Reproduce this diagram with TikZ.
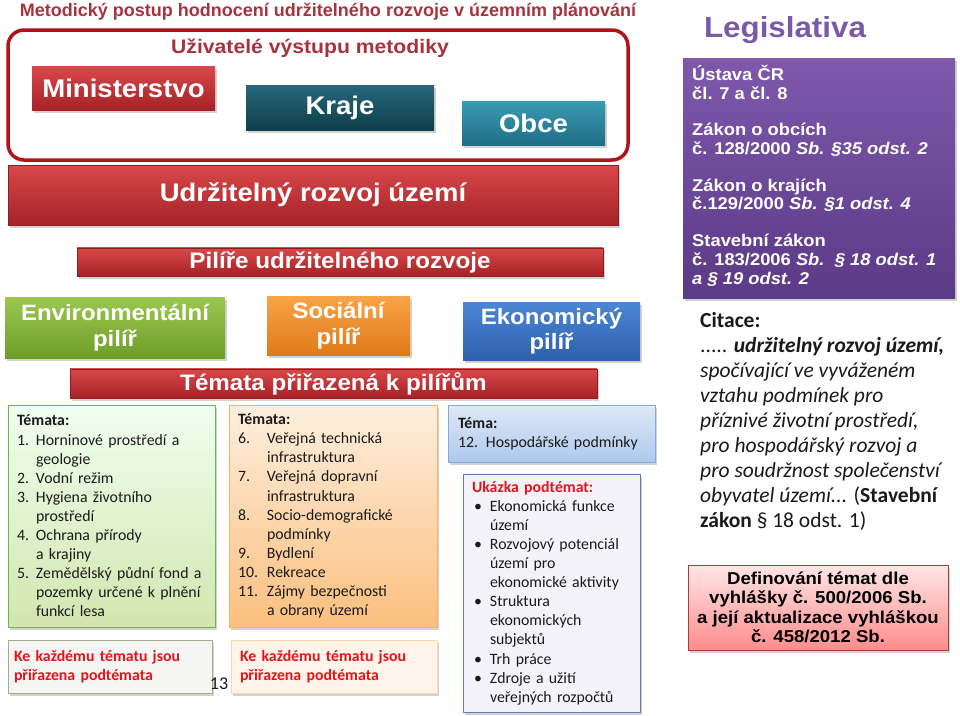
\documentclass[tikz,border=0pt]{standalone}
\usepackage{fontspec}
\setmainfont{Carlito}
\newfontfamily\headfont{Liberation Sans}
\newfontfamily\blackfont[FakeStretch=1.08]{Liberation Sans}
\usetikzlibrary{shadows,backgrounds}

\definecolor{urTitle}{HTML}{A8333F}
\definecolor{urLine}{HTML}{B3121B}
\definecolor{urRedTop}{HTML}{D9484A}
\definecolor{urRedBot}{HTML}{A52226}
\definecolor{urTealDkTop}{HTML}{26687A}
\definecolor{urTealDkBot}{HTML}{0F3E4C}
\definecolor{urTealTop}{HTML}{3A9AB3}
\definecolor{urTealBot}{HTML}{1F6E86}
\definecolor{urGreenTop}{HTML}{9CC74E}
\definecolor{urGreenBot}{HTML}{6E9E2A}
\definecolor{urOrangeTop}{HTML}{F9A447}
\definecolor{urOrangeBot}{HTML}{E07A18}
\definecolor{urBlueTop}{HTML}{4C86D4}
\definecolor{urBlueBot}{HTML}{2D60AC}
\definecolor{urPurpleTop}{HTML}{7F58AC}
\definecolor{urPurpleBot}{HTML}{5B3A87}
\definecolor{urPurpleText}{HTML}{7A5AA6}
\definecolor{urGreenLine}{HTML}{1E9A50}
\definecolor{urOrangeLine}{HTML}{D9781C}
\definecolor{urBlueLine}{HTML}{2F62A6}
\definecolor{urWarn}{HTML}{E3141B}
\definecolor{urInk}{HTML}{1A1A1A}

\newcommand{\heavy}{\blackfont\bfseries}
\newcommand{\envno}[1]{\makebox[19pt][l]{#1}}
\newcommand{\socno}[1]{\makebox[29pt][l]{#1}}
\newcommand{\ukbul}[1]{\hspace*{2pt}\makebox[16pt][l]{#1}}

\begin{document}
\begin{tikzpicture}[x=1pt,y=-1pt,
                    boxshadow/.style={drop shadow={opacity=.35,shadow xshift=2pt,shadow yshift=-2.5pt}},
                    bar/.style={boxshadow,draw=urRedBot!85!black,top color=urRedTop,bottom color=urRedBot,
                                text=white,font=\heavy},
                    users/.style={boxshadow,text=white,font=\heavy\fontsize{25.5}{28}\selectfont},
                    pillar/.style={boxshadow,text=white,align=center,
                                   font=\heavy\fontsize{22.2}{25.5}\selectfont},
                    topics/.style={boxshadow,align=left,text=urInk,inner xsep=9pt,inner ysep=0pt,
                                   font=\fontsize{15.8}{19.1}\selectfont},
                    subnote/.style={boxshadow,align=left,text=urWarn,inner xsep=6pt,
                                    font=\bfseries\fontsize{15.8}{19.1}\selectfont},
                    redline/.style={draw=urLine,line width=3pt}]
  \useasboundingbox[fill=white] (0,0) rectangle (960,715);

  % users of the method
  \node[text=urTitle,font=\headfont\bfseries\fontsize{18}{20}\selectfont] (title) at (328,12)
       {Metodický postup hodnocení udržitelného rozvoje v územním plánování};
  \node[draw=urLine,line width=3.5pt,rounded corners=16pt,minimum width=620pt,minimum height=130pt] (frame) at (318,95) {};
  \node[text=urTitle,font=\heavy\fontsize{19.6}{22}\selectfont] (userhead) at (310,48) {Uživatelé výstupu metodiky};
  \node[users,top color=urRedTop,bottom color=urRedBot,minimum width=183pt,minimum height=44pt] (mini) at (123.5,88) {Ministerstvo};
  \node[users,top color=urTealDkTop,bottom color=urTealDkBot,minimum width=188pt,minimum height=45pt] (kraje) at (340,107.5) {Kraje};
  \node[users,top color=urTealTop,bottom color=urTealBot,minimum width=143pt,minimum height=44pt] (obce) at (533.5,123) {Obce};

  % pillars
  \node[bar,font=\heavy\fontsize{25.4}{28}\selectfont,minimum width=610pt,minimum height=60pt] (udr) at (313,195)
       {Udržitelný rozvoj území};
  \node[bar,font=\heavy\fontsize{22.4}{24}\selectfont,minimum width=526pt,minimum height=28pt] (pil) at (340,262)
       {Pilíře udržitelného rozvoje};
  \node[pillar,top color=urGreenTop,bottom color=urGreenBot,minimum width=220pt,minimum height=61pt] (env) at (115,327.5)
       {Environmentální\\pilíř};
  \node[pillar,top color=urOrangeTop,bottom color=urOrangeBot,minimum width=143pt,minimum height=59pt] (soc) at (338.5,325.5)
       {Sociální\\pilíř};
  \node[pillar,top color=urBlueTop,bottom color=urBlueBot,minimum width=177pt,minimum height=58pt] (eko) at (551.5,331)
       {Ekonomický\\pilíř};
  \node[bar,font=\heavy\fontsize{22.4}{24}\selectfont,minimum width=527pt,minimum height=29pt] (tbar) at (333.5,383.5)
       {Témata přiřazená k pilířům};

  % topics
  \node[topics,draw=urGreenLine!40!urGreenTop,top color=green!6!white,bottom color=urGreenTop!45!white,
        text width=189pt,minimum height=222pt] (gtop) at (111.5,516)
       {\textbf{Témata:}\\
        \envno{1.}Horninové prostředí a\\
        \envno{}geologie\\
        \envno{2.}Vodní režim\\
        \envno{3.}Hygiena životního\\
        \envno{}prostředí\\
        \envno{4.}Ochrana přírody\\
        \envno{}a krajiny\\
        \envno{5.}Zemědělský půdní fond a\\
        \envno{}pozemky určené k plnění\\
        \envno{}funkcí lesa};
  \node[topics,draw=urOrangeTop!85!white,top color=urOrangeTop!18!white,bottom color=urOrangeTop!70!white,
        text width=190pt,minimum height=222pt] (otop) at (333,516)
       {\textbf{Témata:}\\
        \socno{6.}Veřejná technická\\
        \socno{}infrastruktura\\
        \socno{7.}Veřejná dopravní\\
        \socno{}infrastruktura\\
        \socno{8.}Socio-demografické\\
        \socno{}podmínky\\
        \socno{9.}Bydlení\\
        \socno{10.}Rekreace\\
        \socno{11.}Zájmy bezpečnosti\\
        \socno{}a obrany území};
  \node[topics,inner xsep=10pt,draw=urBlueTop!70!white,top color=urBlueTop!18!white,bottom color=urBlueTop!45!white,
        text width=187pt,minimum height=57pt] (btop) at (551.5,433.5)
       {\textbf{Téma:}\\12. Hospodářské podmínky};

  % sub-topics
  \node[subnote,draw=urGreenBot!45!gray!70,fill=urGreenTop!10!gray!8,text width=192pt,minimum height=53pt] (gsub) at (110,666.5)
       {Ke každému tématu jsou\\přiřazena podtémata};
  \node[subnote,inner xsep=9pt,draw=urOrangeTop!45!white,fill=urOrangeTop!12!white,text width=188pt,minimum height=53pt] (osub) at (334,666.5)
       {Ke každému tématu jsou\\přiřazena podtémata};
  \node[topics,draw=urBlueLine!80!white,fill=cyan!12!blue!4!white,text width=159pt,minimum height=238pt] (ukz) at (551.5,593)
       {\textcolor{urWarn}{\textbf{Ukázka podtémat:}}\\
        \ukbul{•}Ekonomická funkce\\
        \ukbul{}území\\
        \ukbul{•}Rozvojový potenciál\\
        \ukbul{}území pro\\
        \ukbul{}ekonomické aktivity\\
        \ukbul{•}Struktura\\
        \ukbul{}ekonomických\\
        \ukbul{}subjektů\\
        \ukbul{•}Trh práce\\
        \ukbul{•}Zdroje a užití\\
        \ukbul{}veřejných rozpočtů};

  % legislation
  \node[text=urPurpleText,font=\heavy\fontsize{29}{32}\selectfont] (leghead) at (785,30) {Legislativa};
  \node[boxshadow,top color=urPurpleTop,bottom color=urPurpleBot,minimum width=272pt,minimum height=240pt] (legbox) at (819,178) {};
  \node[anchor=north west,inner sep=0pt,align=left,text=white,font=\heavy\fontsize{17}{18.7}\selectfont] (legtext) at (692,65)
       {Ústava ČR\\
        čl. 7 a čl. 8\\[18pt]
        Zákon o obcích\\
        č. 128/2000 \textit{Sb. §35 odst. 2}\\[18pt]
        Zákon o krajích\\
        č.129/2000 \textit{Sb. §1 odst. 4}\\[18pt]
        Stavební zákon\\
        č. 183/2006 \textit{Sb.\ \ § 18 odst. 1}\\
        \textit{a § 19 odst. 2}};
  \node[anchor=north west,inner sep=0pt,align=left,text=urInk,font=\fontsize{21.5}{25}\selectfont] (cite) at (700,312)
       {\textbf{Citace:}\\
        ..... \textbf{\textit{udržitelný rozvoj území,}}\\
        \textit{spočívající ve vyváženém}\\
        \textit{vztahu podmínek pro}\\
        \textit{příznivé životní prostředí,}\\
        \textit{pro hospodářský rozvoj a}\\
        \textit{pro soudržnost společenství}\\
        \textit{obyvatel území...} (\textbf{Stavební}\\
        \textbf{zákon} § 18 odst. 1)};
  \node[boxshadow,draw=urRedTop!80!black,top color=red!10!white,bottom color=red!45!white,align=center,
        text=black,font=\heavy\fontsize{17.2}{19.3}\selectfont,minimum width=260pt,minimum height=85pt] (defn) at (818,607.5)
       {Definování témat dle\\vyhlášky č. 500/2006 Sb.\\a její aktualizace vyhláškou\\č. 458/2012 Sb.};
  \coordinate (legtop) at (665,58);
  \coordinate (legbot) at (665,590);
  \node[font=\fontsize{18}{20}\selectfont,text=urInk] (pagenum) at (219,684) {13};

  \begin{scope}[on background layer]
    \draw[redline] ([yshift=-14pt]mini.east) -- ([yshift=-14pt]mini.east -| kraje.west);
    \draw[redline] ([yshift=-15.5pt]kraje.east) -- ([yshift=-15.5pt]kraje.east -| obce.west);
    \draw[redline] (udr.north |- frame.south) -- (udr.north);
    \draw[redline] (udr.south) -- (udr.south |- pil.north);
    \draw[redline] (env.north |- pil.south) -- (env.north);
    \draw[redline] (soc.north |- pil.south) -- (soc.north);
    \draw[redline] (eko.north |- pil.south) -- (eko.north);
    \draw[redline] (legtop) -- (legbot);
    % colored links to the topics
    \draw[urGreenLine,line width=3pt] (env.south) -- (env.south |- gtop.north);
    \draw[urGreenLine,line width=3pt] (env.south |- gtop.south) -- (env.south |- gsub.north);
    \draw[urOrangeLine,line width=3pt] (soc.south) -- (soc.south |- otop.north);
    \draw[urOrangeLine,line width=3pt] (soc.south |- otop.south) -- (soc.south |- osub.north);
    \draw[urBlueLine,line width=3pt] (eko.south) -- (eko.south |- btop.north);
    \draw[urBlueLine,line width=3pt] (eko.south |- btop.south) -- (eko.south |- ukz.north);
  \end{scope}
\end{tikzpicture}
\end{document}
